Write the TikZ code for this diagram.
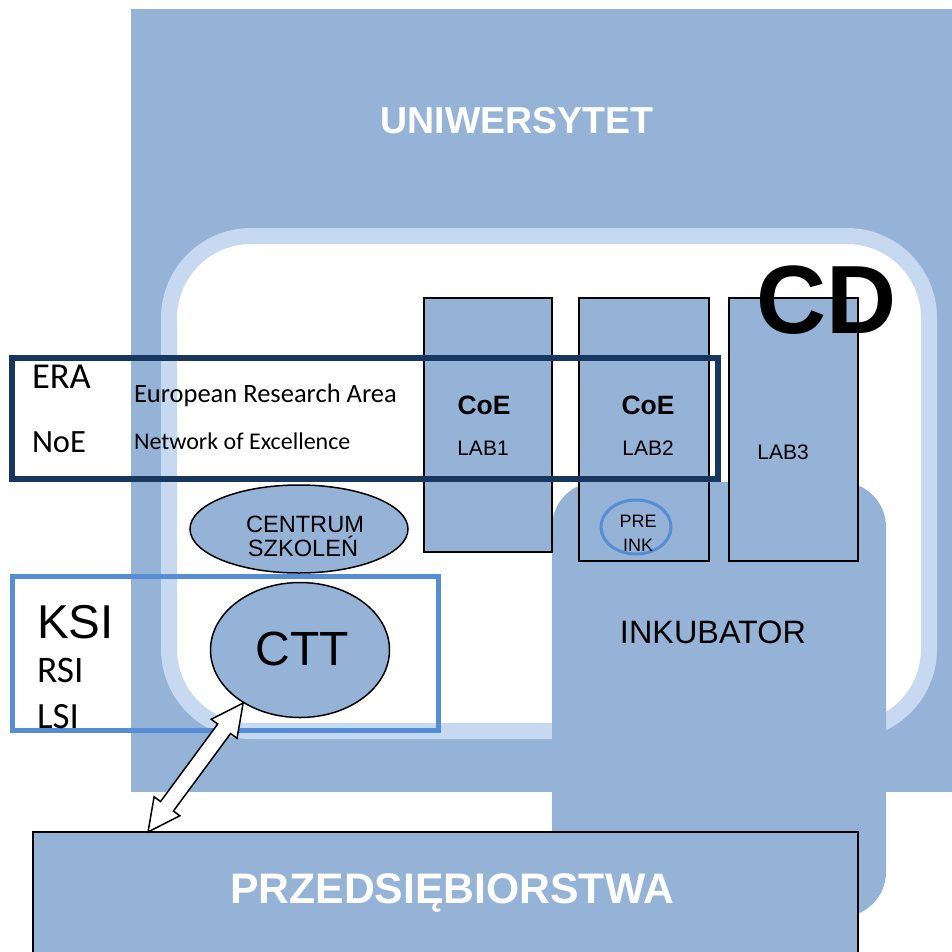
\documentclass[tikz,border=0pt]{standalone}
\usepackage{fontspec}
\setmainfont{Liberation Sans}
\newfontfamily\carl{Carlito}
\usetikzlibrary{calc,shapes.geometric}
\definecolor{ubl}{HTML}{95B3D7}
\definecolor{band}{HTML}{C6D9F1}
\definecolor{navy}{HTML}{17375E}
\definecolor{ksib}{HTML}{558ED5}
\begin{document}
\begin{tikzpicture}[x=1pt,y=-1pt,
  box/.style={anchor=north west, inner sep=0pt, outer sep=0pt},
  labbox/.style={box, draw=black, line width=1.5pt, fill=ubl},
  txt/.style={inner sep=0pt, outer sep=0pt},
  fs/.style={font=\fontsize{#1}{#1}\selectfont},
  fsb/.style={font=\bfseries\fontsize{#1}{#1}\selectfont},
  fsc/.style={font=\carl\fontsize{#1}{#1}\selectfont},
  oval/.style={ellipse, draw=black, line width=1.5pt, fill=ubl, inner sep=0pt}
]
\useasboundingbox (0,0) rectangle (952,951);
\fill[white] (0,0) rectangle (952,951);
% university background
\node[box, fill=ubl, minimum width=821pt, minimum height=783pt] (uni) at (131,9) {};
\node[txt, fsb=37.5, text=white, anchor=base] (unit) at (517,133) {UNIWERSYTET};
% CD rounded frame
\node[box, draw=band, line width=16pt, fill=white, rounded corners=82pt,
      minimum width=760pt, minimum height=495pt] (cd) at (169,236) {};
% incubator
\node[box, fill=ubl, rounded corners=45pt, minimum width=334pt, minimum height=435pt] (ink) at (552,482) {};
\node[txt, fs=32.4, anchor=base] (inkt) at (713,643) {INKUBATOR};
% labs
\node[labbox, minimum width=128pt, minimum height=254pt] (lab1) at (424,298) {};
\node[labbox, minimum width=130pt, minimum height=263pt] (lab2) at (579,298) {};
\node[labbox, minimum width=129pt, minimum height=263pt] (lab3) at (729,298) {};
\node[txt, fsb=26.5, anchor=base] (coe1) at (484,414) {CoE};
\node[txt, fsb=26.5, anchor=base] (coe2) at (648,414) {CoE};
\node[txt, fs=21, anchor=base] (l1) at (483,455) {LAB1};
\node[txt, fs=21, anchor=base] (l2) at (648,455) {LAB2};
\node[txt, fs=21, anchor=base] (l3) at (783,459) {LAB3};
% pre-incubator
\node[oval, draw=ksib, line width=3pt, minimum width=70pt, minimum height=54pt] (pre) at (636,527) {};
\node[txt, fs=18, anchor=base] (pret) at (638,527) {PRE};
\node[txt, fs=18, anchor=base] (inkt2) at (638,551) {INK};
% CD label
\node[txt, fsb=97, anchor=base] (cdt) at (827,333) {CD};
% ERA box
\node[box, draw=navy, line width=6pt, minimum width=706pt, minimum height=121pt] (era) at (12,358) {};
\node[txt, fsc=36.5, anchor=base west] (erat) at (32,388) {ERA};
\node[txt, fsc=26.5, anchor=base west] (erad) at (134,402) {European Research Area};
\node[txt, fsc=32.5, anchor=base west] (noet) at (32,452) {NoE};
\node[txt, fsc=24, anchor=base west] (noed) at (134,449) {Network of Excellence};
% centrum szkolen
\node[oval, minimum width=218pt, minimum height=88pt] (cs) at (299,529) {};
\node[txt, fs=23.6, anchor=base] (cs1) at (305,532) {CENTRUM};
\node[txt, fs=23.6, anchor=base] (cs2) at (303,556) {SZKOLEŃ};
% CTT
\node[oval, minimum width=179pt, minimum height=135pt] (ctt) at (300,650) {};
\node[txt, fs=48, anchor=base] (cttt) at (302,665) {CTT};
% KSI box
\node[box, draw=ksib, line width=5pt, minimum width=426pt, minimum height=154pt] (ksi) at (12,576) {};
\node[txt, fs=47.5, anchor=base west] (ksit) at (37,638) {KSI};
\node[txt, fsc=37.5, anchor=base west] (rsit) at (37,682) {RSI};
\node[txt, fsc=37, anchor=base west] (lsit) at (37,728) {LSI};
% companies
\node[box, draw=black, line width=1.5pt, fill=ubl, minimum width=825pt, minimum height=140pt] (prz) at (33,832) {};
\node[txt, fsb=42.7, text=white, anchor=base] (przt) at (452,903) {PRZEDSIĘBIORSTWA};
% double block arrow
\coordinate (aT) at (ctt.223);
\coordinate (aB) at ($(prz.north west)+(115,0)$);
\draw[line width=1.5pt, fill=white, line join=miter]
  (aT) -- ($(aT)!32pt!(aB)!16pt!90:(aB)$) -- ($(aT)!32pt!(aB)!8pt!90:(aB)$)
  -- ($(aB)!32pt!(aT)!8pt!-90:(aT)$) -- ($(aB)!32pt!(aT)!16pt!-90:(aT)$)
  -- (aB)
  -- ($(aB)!32pt!(aT)!16pt!90:(aT)$) -- ($(aB)!32pt!(aT)!8pt!90:(aT)$)
  -- ($(aT)!32pt!(aB)!8pt!-90:(aB)$) -- ($(aT)!32pt!(aB)!16pt!-90:(aB)$)
  -- cycle;
\end{tikzpicture}
\end{document}
